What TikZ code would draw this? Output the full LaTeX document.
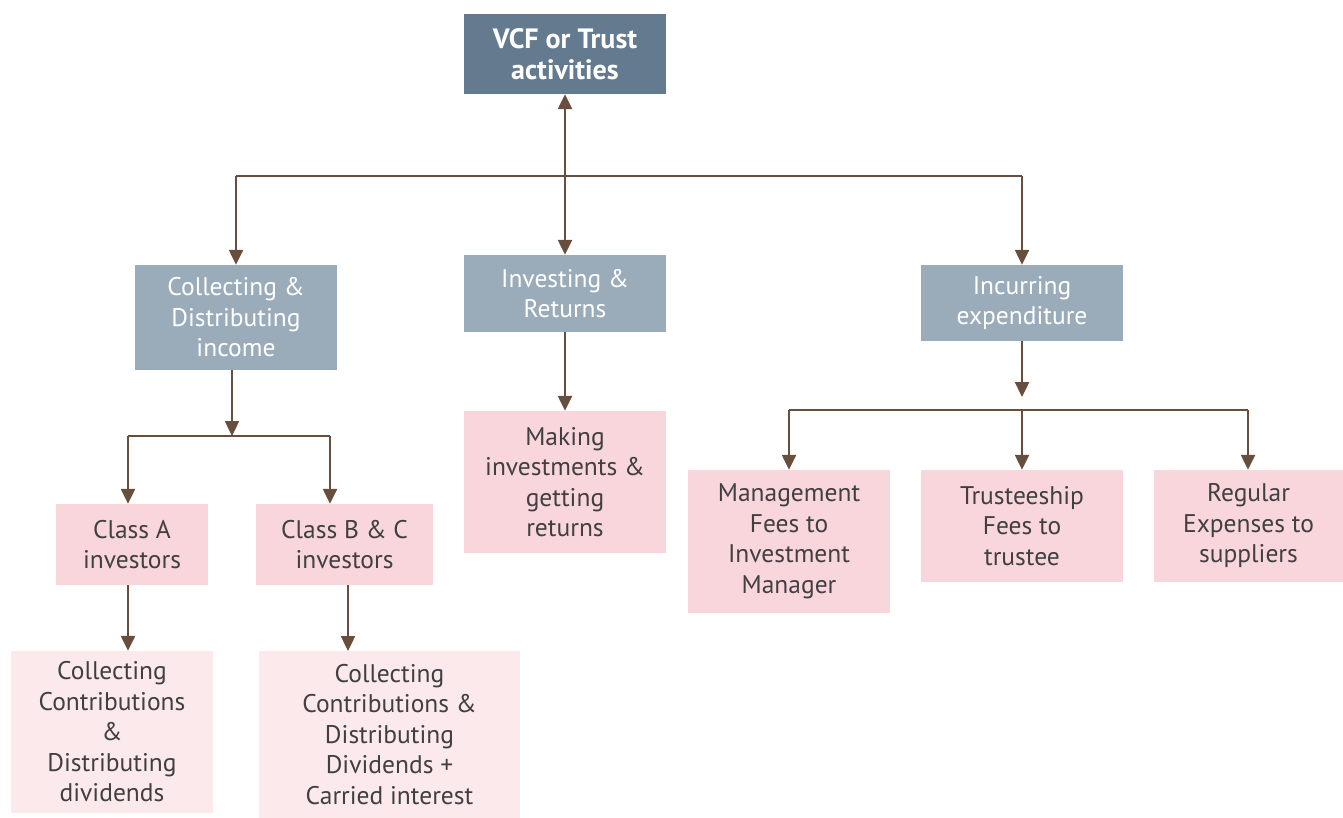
\documentclass[tikz,border=0pt]{standalone}
\usepackage{fontspec}
\setmainfont{PT Sans}
\usetikzlibrary{arrows.meta}

\definecolor{topblue}{HTML}{647A8E}
\definecolor{midblue}{HTML}{9AABBA}
\definecolor{rosebox}{HTML}{F9D6DB}
\definecolor{palerose}{HTML}{FBE9EB}
\definecolor{txtgray}{HTML}{404040}
\definecolor{brownline}{HTML}{684E3D}

\tikzset{
  box/.style={rectangle, inner sep=0pt, align=center, font=\fontsize{25.5}{30.5}\selectfont},
  headbox/.style={box, fill=topblue, text=white, font=\fontsize{28}{31}\selectfont\bfseries},
  groupbox/.style={box, fill=midblue, text=white},
  taskbox/.style={box, fill=rosebox, text=txtgray},
  leafbox/.style={box, fill=palerose, text=txtgray},
  link/.style={draw=brownline, line width=2.4pt},
  arr/.style={link, -{Triangle[width=14pt,length=15pt]}},
  biarr/.style={link, {Triangle[width=14pt,length=15pt]}-{Triangle[width=14pt,length=15pt]}}
}

\begin{document}
\begin{tikzpicture}[x=1pt,y=-1pt]
\useasboundingbox (0,0) rectangle (1343,818);

% top
\node [headbox, minimum width=202pt, minimum height=80pt] (vcf) at (565,54) {VCF or Trust\\activities};

% second row
\node [groupbox, minimum width=202pt, minimum height=105pt] (collect) at (236,317.5) {Collecting \&\\Distributing\\income};
\node [groupbox, minimum width=202pt, minimum height=77pt] (invest) at (565,293.5) {Investing \&\\Returns};
\node [groupbox, minimum width=202pt, minimum height=76pt] (incur) at (1022,303) {Incurring\\expenditure};

% third row
\node [taskbox, minimum width=152pt, minimum height=81pt] (classa) at (132,544.5) {Class A\\investors};
\node [taskbox, minimum width=177pt, minimum height=81pt] (classbc) at (344.5,544.5) {Class B \& C\\investors};
\node [taskbox, minimum width=202pt, minimum height=142pt] (making) at (565,482) {Making\\investments \&\\getting\\returns};
\node [taskbox, minimum width=202pt, minimum height=143pt] (mgmt) at (789,541.5) {Management\\Fees to\\Investment\\Manager};
\node [taskbox, minimum width=202pt, minimum height=112pt] (trustee) at (1022,526) {Trusteeship\\Fees to\\trustee};
\node [taskbox, minimum width=189pt, minimum height=112pt] (regular) at (1248.5,526) {Regular\\Expenses to\\suppliers};

% bottom row
\node [leafbox, minimum width=202pt, minimum height=162pt] (colla) at (112,732) {Collecting\\Contributions\\\&\\Distributing\\dividends};
\node [leafbox, minimum width=261pt, minimum height=167pt] (collbc) at (389.5,734.5) {Collecting\\Contributions \&\\Distributing\\Dividends +\\Carried interest};

% junctions
\coordinate (tl) at (236,176);
\coordinate (tr) at (1022,176);
\coordinate (cm) at (232,436);
\coordinate (cl) at (128,436);
\coordinate (cr) at (330,436);
\coordinate (em) at (1022,410);
\coordinate (ea) at (1022,397);
\coordinate (el) at (789,410);
\coordinate (er) at (1248,410);

\draw [biarr] (vcf) -- (invest);
\draw [link] (tl) -- (tr);
\draw [arr] (tl) -- (collect);
\draw [arr] (tr) -- (incur);

\draw [arr] (collect.south -| cm) -- (cm);
\draw [link] (cl) -- (cr);
\draw [arr] (cl) -- (cl |- classa.north);
\draw [arr] (cr) -- (cr |- classbc.north);
\draw [arr] (classa.south -| cl) -- (cl |- colla.north);
\draw [arr] (classbc.south -| 348,0) -- (348,651);

\draw [arr] (invest) -- (making);

\draw [arr] (incur) -- (ea);
\draw [link] (el) -- (er);
\draw [arr] (el) -- (el |- mgmt.north);
\draw [arr] (em) -- (trustee);
\draw [arr] (er) -- (er |- regular.north);
\end{tikzpicture}
\end{document}
